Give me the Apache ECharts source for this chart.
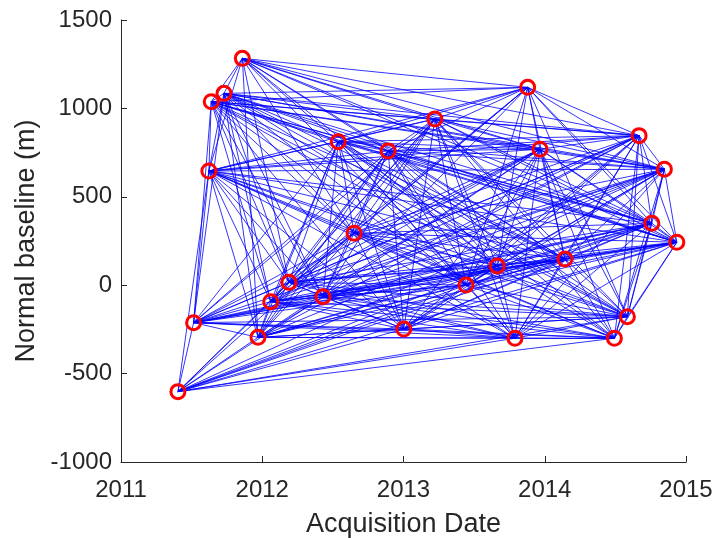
<!DOCTYPE html>
<html>
<head>
<meta charset="utf-8">
<script src="https://cdn.jsdelivr.net/npm/echarts@6/dist/echarts.min.js"></script>
<style>
  html, body { margin: 0; padding: 0; background: #ffffff; }
  #chart { width: 718px; height: 538px; }
</style>
</head>
<body>
<div id="chart"></div>
<script>
// Acquisition dates (decimal years), in time order
const acqDates = [
  2011.403, 2011.514, 2011.622, 2011.639, 2011.729, 2011.859, 2011.970,
  2012.060, 2012.189, 2012.430, 2012.538, 2012.650, 2012.891, 2013.002,
  2013.222, 2013.442, 2013.663, 2013.789, 2013.879, 2013.966, 2014.143,
  2014.493, 2014.585, 2014.668, 2014.758, 2014.847, 2014.935
];

// Normal (perpendicular) baseline of each acquisition, metres
const normalBaselines = [
  -602, -212, 646, 1038, 1085, 1283, -295,
  -93, 16, -65, 812, 294, 759, -248,
  940, 1, 109, -300, 1119, 769, 148,
  -300, -178, 846, 350, 656, 243
];

// Interferometric pairs: for acquisition i, the later acquisitions it is paired with
const pairLinks = [
  [1, 2, 6, 7, 8, 9, 11, 13, 15, 16, 17, 20, 21, 22, 24, 25, 26],
  [2, 3, 4, 6, 7, 8, 9, 10, 11, 12, 13, 14, 15, 16, 17, 19, 20, 21, 22, 23, 24, 25, 26],
  [3, 4, 5, 6, 7, 8, 9, 10, 11, 12, 13, 14, 15, 16, 17, 18, 19, 20, 21, 22, 23, 24, 25, 26],
  [4, 5, 7, 8, 9, 10, 11, 12, 13, 14, 15, 16, 18, 19, 20, 22, 23, 24, 25, 26],
  [5, 6, 7, 8, 9, 10, 11, 12, 14, 15, 16, 18, 19, 20, 22, 23, 24, 25, 26],
  [6, 8, 10, 11, 12, 14, 15, 16, 18, 19, 20, 23, 24, 25, 26],
  [7, 8, 9, 10, 11, 12, 13, 14, 15, 16, 17, 19, 20, 21, 22, 23, 24, 25, 26],
  [8, 9, 10, 11, 12, 13, 14, 15, 16, 17, 18, 19, 20, 21, 22, 23, 24, 25, 26],
  [9, 10, 11, 12, 13, 14, 15, 16, 17, 18, 19, 20, 21, 22, 23, 24, 25, 26],
  [10, 11, 12, 13, 14, 15, 16, 17, 18, 19, 20, 21, 22, 23, 24, 25, 26],
  [11, 12, 13, 14, 15, 16, 17, 18, 19, 20, 21, 22, 23, 24, 25, 26],
  [12, 13, 14, 15, 16, 17, 18, 19, 20, 21, 22, 23, 24, 25, 26],
  [13, 14, 15, 16, 17, 18, 19, 20, 21, 22, 23, 24, 25, 26],
  [14, 15, 16, 17, 19, 20, 21, 22, 23, 24, 25, 26],
  [15, 16, 17, 18, 19, 20, 21, 22, 23, 24, 25, 26],
  [16, 17, 18, 19, 20, 21, 22, 23, 24, 25, 26],
  [17, 18, 19, 20, 21, 22, 23, 24, 25, 26],
  [19, 20, 21, 22, 23, 24, 25, 26],
  [19, 20, 22, 23, 24, 25, 26],
  [20, 21, 22, 23, 24, 25, 26],
  [21, 22, 23, 24, 25, 26],
  [22, 23, 24, 25, 26],
  [23, 24, 25, 26],
  [24, 25, 26],
  [25, 26],
  [26],
  []
];

// Axis ticks
const xTicks = { min: 2011, max: 2015, step: 1 };
const yTicks = { min: -1000, max: 1500, step: 500 };

const points = acqDates.map((d, i) => [d, normalBaselines[i]]);
const segments = [];
pairLinks.forEach((targets, i) => {
  targets.forEach(j => segments.push({ coords: [points[i], points[j]] }));
});

const textColor = '#262626';
const fontFamily = '"Liberation Sans", Arial, Helvetica, sans-serif';

const chart = echarts.init(document.getElementById('chart'), null, { renderer: 'canvas' });
chart.setOption({
  backgroundColor: '#ffffff',
  animation: false,
  grid: { left: 121, right: 32, top: 20, bottom: 76, containLabel: false, outerBoundsMode: 'none' },
  xAxis: {
    type: 'value',
    min: xTicks.min, max: xTicks.max, interval: xTicks.step,
    name: 'Acquisition Date',
    nameLocation: 'middle',
    nameGap: 49,
    nameTextStyle: { color: textColor, fontSize: 27, fontFamily: fontFamily },
    axisLine: { show: true, onZero: false, lineStyle: { color: textColor, width: 1 } },
    axisTick: { show: true, inside: true, length: 6, lineStyle: { color: textColor } },
    axisLabel: { color: textColor, fontSize: 24, fontFamily: fontFamily, margin: 16,
                 formatter: v => String(v) },
    splitLine: { show: false }
  },
  yAxis: {
    type: 'value',
    min: yTicks.min, max: yTicks.max, interval: yTicks.step,
    name: 'Normal baseline (m)',
    nameLocation: 'middle',
    nameRotate: 90,
    nameGap: 71,
    nameTextStyle: { color: textColor, fontSize: 27, fontFamily: fontFamily },
    axisLine: { show: true, onZero: false, lineStyle: { color: textColor, width: 1 } },
    axisTick: { show: true, inside: true, length: 6, lineStyle: { color: textColor } },
    axisLabel: { color: textColor, fontSize: 24, fontFamily: fontFamily, margin: 9,
                 formatter: v => String(v) },
    splitLine: { show: false }
  },
  series: [
    {
      type: 'lines',
      coordinateSystem: 'cartesian2d',
      silent: true,
      z: 1,
      lineStyle: { color: '#0000ff', width: 0.8, opacity: 1 },
      data: segments
    },
    {
      type: 'scatter',
      silent: true,
      z: 3,
      symbol: 'circle',
      symbolSize: 14,
      itemStyle: { color: 'rgba(0,0,0,0)', borderColor: '#ff0000', borderWidth: 3, opacity: 1 },
      data: points
    }
  ]
});
</script>
</body>
</html>
